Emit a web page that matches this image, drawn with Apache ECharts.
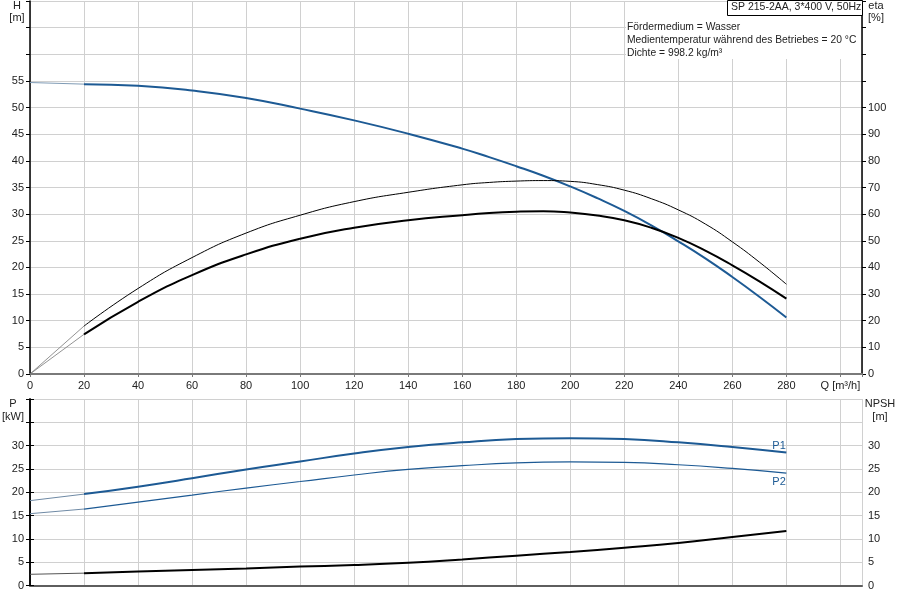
<!DOCTYPE html>
<html>
<head>
<meta charset="utf-8">
<script src="https://cdn.jsdelivr.net/npm/echarts@6/dist/echarts.min.js"></script>
<style>
html,body{margin:0;padding:0;background:#fff;}
#chart{width:900px;height:600px;}
</style>
</head>
<body>
<div id="chart"></div>
<script>
// Flow rate Q [m³/h] for the upper diagram (head, efficiencies)
var Q_TOP = [20, 40, 60, 80, 100, 120, 140, 160, 170, 180, 190, 200, 210, 220, 230, 240, 250, 260, 270, 280];
// Flow rate Q [m³/h] for the lower diagram (power, NPSH)
var Q_BOT = [20, 40, 60, 80, 100, 120, 140, 160, 180, 200, 220, 240, 260, 280];
// Start of curves (extension from Q=0 to Q=20)
var Q_EXT = [0, 20];

var H = [54.4, 54.1, 53.2, 51.8, 49.8, 47.6, 45.1, 42.3, 40.7, 39.0, 37.2, 35.2, 33.0, 30.6, 27.9, 24.9, 21.7, 18.2, 14.5, 10.6];
var H_EXT = [54.7, 54.4];

var ETA_HYD = [18.0, 32.1, 43.7, 52.9, 59.6, 64.7, 68.2, 71.0, 71.9, 72.4, 72.6, 72.3, 71.1, 69.0, 65.8, 61.6, 56.3, 49.6, 42.0, 33.7];
var ETA_HYD_EXT = [0, 18.0];

var ETA_TOT = [14.9, 27.1, 37.1, 44.9, 50.8, 54.9, 57.7, 59.6, 60.4, 60.9, 61.1, 60.6, 59.5, 57.7, 54.9, 51.1, 46.3, 40.8, 34.8, 28.3];
var ETA_TOT_EXT = [0, 14.9];

var P1 = [19.6, 21.2, 23.0, 24.9, 26.6, 28.3, 29.7, 30.7, 31.4, 31.6, 31.4, 30.7, 29.7, 28.5];
var P1_EXT = [18.2, 19.6];

var P2 = [16.4, 17.9, 19.4, 20.9, 22.3, 23.7, 24.9, 25.7, 26.3, 26.5, 26.4, 25.9, 25.1, 24.1];
var P2_EXT = [15.4, 16.4];

var NPSH = [2.65, 3.0, 3.35, 3.65, 4.05, 4.4, 4.9, 5.6, 6.4, 7.2, 8.1, 9.1, 10.4, 11.7];
var NPSH_EXT = [2.4, 2.65];

var X_TICKS = [0, 20, 40, 60, 80, 100, 120, 140, 160, 180, 200, 220, 240, 260, 280];
var X_UNIT_LABEL = 'Q [m³/h]';

var INFO_TITLE = 'SP 215-2AA, 3*400 V, 50Hz';
var INFO_LINES = ['Fördermedium = Wasser', 'Medientemperatur während des Betriebes = 20 °C', 'Dichte = 998.2 kg/m³'];

function pairs(xs, ys) { return xs.map(function (x, i) { return [x, ys[i]]; }); }

var BLUE = '#1d5a94';
var FONT = 'Liberation Sans, Arial, sans-serif';
var GRIDC = '#d0d0d0';
var TXT = '#222';
var SM = 0.5;

function xAxisLabel(v) {
  if (X_TICKS.indexOf(v) >= 0) return String(v);
  if (v === 300) return X_UNIT_LABEL;
  return '';
}
function limitLabel(max) { return function (v) { return v <= max ? String(v) : ''; }; }

var chart = echarts.init(document.getElementById('chart'), null, { renderer: 'canvas' });

function curve(xi, yi, data, color, width) {
  return { type: 'line', xAxisIndex: xi, yAxisIndex: yi, data: data, smooth: SM, symbol: 'none', lineStyle: { color: color, width: width } };
}
function ext(xi, yi, data, color, width) {
  return { type: 'line', xAxisIndex: xi, yAxisIndex: yi, data: data, symbol: 'none', lineStyle: { color: color, width: width } };
}

var p1 = curve(1, 2, pairs(Q_BOT, P1), BLUE, 2);
p1.endLabel = { show: true, formatter: 'P1', offset: [-22, -7], color: BLUE, fontSize: 11, fontFamily: FONT };
var p2 = curve(1, 2, pairs(Q_BOT, P2), BLUE, 1.2);
p2.endLabel = { show: true, formatter: 'P2', offset: [-22, 9], color: BLUE, fontSize: 11, fontFamily: FONT };

var option = {
  backgroundColor: '#fff',
  animation: false,
  textStyle: { fontFamily: FONT },
  grid: [
    { left: 30, right: 38, top: 1, height: 373 },
    { left: 30, right: 38, top: 399, height: 186.5 }
  ],
  xAxis: [
    {
      type: 'value', gridIndex: 0, min: 0, max: 308, interval: 20,
      axisLine: { show: true, lineStyle: { color: '#7a7a7a', width: 2 } },
      axisTick: { show: true, length: 3, lineStyle: { color: '#7a7a7a' } },
      axisLabel: { color: TXT, fontSize: 11, margin: 6, formatter: xAxisLabel, showMaxLabel: true, hideOverlap: false },
      splitLine: { show: true, lineStyle: { color: GRIDC, width: 1 } }
    },
    {
      type: 'value', gridIndex: 1, min: 0, max: 308, interval: 20,
      axisLine: { show: true, lineStyle: { color: '#7a7a7a', width: 2 } },
      axisTick: { show: false },
      axisLabel: { show: false },
      splitLine: { show: true, lineStyle: { color: GRIDC, width: 1 } }
    },
    {
      type: 'value', gridIndex: 1, min: 0, max: 308, position: 'top',
      axisLine: { show: true, lineStyle: { color: '#555', width: 1.5 } },
      axisTick: { show: false }, axisLabel: { show: false }, splitLine: { show: false }
    }
  ],
  yAxis: [
    {
      type: 'value', gridIndex: 0, min: 0, max: 70, interval: 5,
      axisLine: { show: true, lineStyle: { color: '#000', width: 1.5 } },
      axisTick: { show: true, length: 4, lineStyle: { color: '#000' } },
      axisLabel: { color: TXT, fontSize: 11, margin: 6, formatter: limitLabel(55) },
      splitLine: { show: true, lineStyle: { color: GRIDC, width: 1 } }
    },
    {
      type: 'value', gridIndex: 0, min: 0, max: 140, interval: 10, position: 'right',
      axisLine: { show: true, lineStyle: { color: '#000', width: 1.5 } },
      axisTick: { show: true, length: 4, lineStyle: { color: '#000' } },
      axisLabel: { color: TXT, fontSize: 11, margin: 6, formatter: limitLabel(100) },
      splitLine: { show: false }
    },
    {
      type: 'value', gridIndex: 1, min: 0, max: 40, interval: 5,
      axisLine: { show: true, lineStyle: { color: '#000', width: 1.5 } },
      axisTick: { show: true, length: 4, lineStyle: { color: '#000' } },
      axisLabel: { color: TXT, fontSize: 11, margin: 6, formatter: limitLabel(30) },
      splitLine: { show: true, lineStyle: { color: GRIDC, width: 1 } }
    },
    {
      type: 'value', gridIndex: 1, min: 0, max: 40, interval: 5, position: 'right',
      axisLine: { show: true, lineStyle: { color: '#000', width: 1.5 } },
      axisTick: { show: true, length: 4, lineStyle: { color: '#000' } },
      axisLabel: { color: TXT, fontSize: 11, margin: 6, formatter: limitLabel(30) },
      splitLine: { show: false }
    }
  ],
  series: [
    ext(0, 0, pairs(Q_EXT, H_EXT), '#7f9bb5', 1),
    curve(0, 0, pairs(Q_TOP, H), BLUE, 2),
    ext(0, 1, pairs(Q_EXT, ETA_HYD_EXT), '#777', 0.8),
    curve(0, 1, pairs(Q_TOP, ETA_HYD), '#000', 1),
    ext(0, 1, pairs(Q_EXT, ETA_TOT_EXT), '#777', 0.8),
    curve(0, 1, pairs(Q_TOP, ETA_TOT), '#000', 2),
    ext(1, 2, pairs(Q_EXT, P1_EXT), '#6f8aa5', 1),
    p1,
    ext(1, 2, pairs(Q_EXT, P2_EXT), '#6f8aa5', 1),
    p2,
    ext(1, 3, pairs(Q_EXT, NPSH_EXT), '#555', 1),
    curve(1, 3, pairs(Q_BOT, NPSH), '#000', 2)
  ],
  graphic: [
    { type: 'rect', left: 626, top: 2, shape: { width: 235, height: 57 }, style: { fill: '#fff' }, z: 50 },
    { type: 'rect', left: 727, top: 0, shape: { width: 135, height: 15 }, style: { fill: '#fff', stroke: '#000', lineWidth: 1 }, z: 51 },
    { type: 'text', left: 731, top: 1.5, style: { text: INFO_TITLE, font: '10.5px ' + FONT, fill: TXT }, z: 52 },
    { type: 'text', left: 627, top: 20.5, style: { text: INFO_LINES.join('\n'), font: '10.3px ' + FONT, fill: TXT, lineHeight: 13 }, z: 52 },
    { type: 'text', x: 17, y: 0, style: { text: 'H\n[m]', font: '11px ' + FONT, fill: TXT, align: 'center', lineHeight: 12 }, z: 52 },
    { type: 'text', x: 876, y: 0, style: { text: 'eta\n[%]', font: '11px ' + FONT, fill: TXT, align: 'center', lineHeight: 12 }, z: 52 },
    { type: 'text', x: 13, y: 397, style: { text: 'P\n[kW]', font: '11px ' + FONT, fill: TXT, align: 'center', lineHeight: 13 }, z: 52 },
    { type: 'text', x: 880, y: 397, style: { text: 'NPSH\n[m]', font: '11px ' + FONT, fill: TXT, align: 'center', lineHeight: 13 }, z: 52 }
  ]
};
chart.setOption(option);
</script>
</body>
</html>
